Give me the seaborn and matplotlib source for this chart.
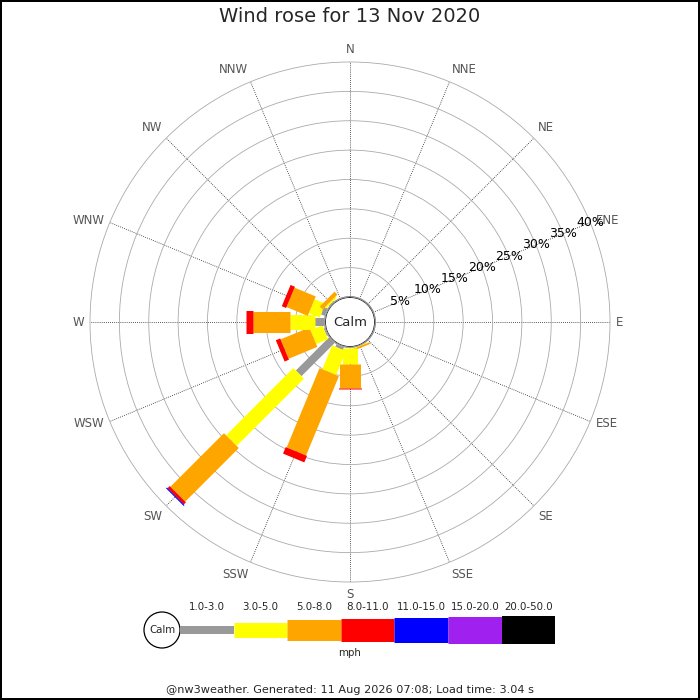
import numpy as np
import matplotlib
matplotlib.use("Agg")
import matplotlib.pyplot as plt
from matplotlib.patches import Circle
import seaborn as sns

# wind rose data, % of time per direction and speed class (calm is the rest)
directions = ["N", "NNE", "NE", "ENE", "E", "ESE", "SE", "SSE",
              "S", "SSW", "SW", "WSW", "W", "WNW", "NW", "NNW"]
speed_classes = ["1.0-3.0", "3.0-5.0", "5.0-8.0", "8.0-11.0",
                 "11.0-15.0", "15.0-20.0", "20.0-50.0"]
class_colors = ["#999999", "#ffff00", "#ffa500", "#ff0000",
                "#0000ff", "#a020f0", "#000000"]
class_width_px = [8, 15, 21, 23, 25, 27, 28]

# rows follow directions, columns follow speed_classes
freq = {
    "SSE": [0.05, 0.15, 0.3, 0, 0, 0, 0],
    "S":   [0.2, 2.7, 4.1, 0.2, 0, 0, 0],
    "SSW": [0.6, 4.4, 14.6, 1.2, 0, 0, 0],
    "SW":  [8.1, 16.2, 12.9, 0.5, 0.2, 0, 0],
    "WSW": [0.3, 2.2, 5.3, 0.8, 0, 0, 0],
    "W":   [1.7, 4.2, 6.3, 1.2, 0, 0, 0],
    "WNW": [0.8, 2.0, 3.9, 0.8, 0, 0, 0],
    "NW":  [0.25, 0.3, 0.7, 0, 0, 0, 0],
}
ring_pcts = [5, 10, 15, 20, 25, 30, 35, 40]

title = "Wind rose for 13 Nov 2020"
footer = "@nw3weather. Generated: 11 Aug 2026 07:08; Load time: 3.04 s"

sns.set_theme(style="white")
plt.rcParams["font.family"] = ["DejaVu Sans"]

DPI = 100
px2pt = 72.0 / DPI
fig = plt.figure(figsize=(7, 7), dpi=DPI)
fig.patch.set_facecolor("white")
fig.patch.set_edgecolor("black")
fig.patch.set_linewidth(1.5)

calm_off = 4.255   # hole in the middle for the calm circle
rmax = 40

ax = fig.add_axes([90 / 700, 118 / 700, 520 / 700, 520 / 700], projection="polar")
ax.set_theta_zero_location("N")
ax.set_theta_direction(-1)
ax.set_rorigin(-calm_off)
ax.set_ylim(0, rmax)
thetas = np.deg2rad(np.arange(16) * 22.5)
ax.set_xticks(thetas)
ax.set_xticklabels([])
ax.set_yticks(ring_pcts)
ax.set_yticklabels([])
ax.xaxis.grid(True, color="#222222", linestyle=(0, (1, 1.5)), linewidth=0.6)
ax.yaxis.grid(True, color="#aaaaaa", linestyle="-", linewidth=0.6)
for gl in ax.yaxis.get_gridlines():
    gl.set_clip_on(False)
for sp in ax.spines.values():
    sp.set_visible(False)
ax.set_facecolor("white")

# bars: stacked radial rectangles, wider for faster classes
for d, vals in freq.items():
    th = thetas[directions.index(d)]
    cum = np.concatenate([[0], np.cumsum(vals)])
    for k in range(len(vals)):
        if vals[k] <= 0:
            continue
        ax.plot([th, th], [cum[k], cum[k + 1]], color=class_colors[k],
                lw=class_width_px[k] * px2pt, solid_capstyle="butt", zorder=3)

# calm circle
circ = np.linspace(0, 2 * np.pi, 300)
ax.fill(circ, np.zeros_like(circ), color="white", zorder=4)
ax.plot(circ, np.zeros_like(circ), color="#777777", lw=0.9, zorder=5)
ax.text(0, -calm_off, "Calm", ha="center", va="center", fontsize=9.5, zorder=6)

# direction labels
r_lab = 41.0
for th, name in zip(thetas, directions):
    s, c = np.sin(th), np.cos(th)
    ha = "left" if s > 0.2 else ("right" if s < -0.2 else "center")
    va = "bottom" if c > 0.5 else ("top" if c < -0.5 else "center")
    ax.text(th, r_lab, name, ha=ha, va=va, fontsize=8.5, color="#555555",
            clip_on=False)

# ring labels along ENE
th_lab = thetas[directions.index("ENE")]
for p in ring_pcts:
    ax.text(th_lab, p, f"{p}%", ha="center", va="center", fontsize=9,
            color="black", zorder=6)

fig.text(0.5, 683 / 700, title, ha="center", va="center", fontsize=14)
fig.text(0.5, 10 / 700, footer, ha="center", va="center", fontsize=8.1)

# legend strip (units are pixels)
leg = fig.add_axes([140 / 700, 40 / 700, 420 / 700, 60 / 700])
leg.set_xlim(0, 420)
leg.set_ylim(0, 60)
leg.axis("off")
seg_w = 53.6
x0 = 40
for k, lab in enumerate(speed_classes):
    xa = x0 + k * seg_w
    leg.plot([xa, xa + seg_w], [30, 30], color=class_colors[k],
             lw=class_width_px[k] * px2pt, solid_capstyle="butt")
    leg.text(xa + seg_w / 2, 53, lab, ha="center", va="center", fontsize=7.4)
leg.add_patch(Circle((22, 30), 18, facecolor="white", edgecolor="black", lw=0.9))
leg.text(22, 30, "Calm", ha="center", va="center", fontsize=7.4)
leg.text(210, 7, "mph", ha="center", va="center", fontsize=7.4)

fig.savefig("out.png", dpi=DPI, facecolor="white", edgecolor="black")
